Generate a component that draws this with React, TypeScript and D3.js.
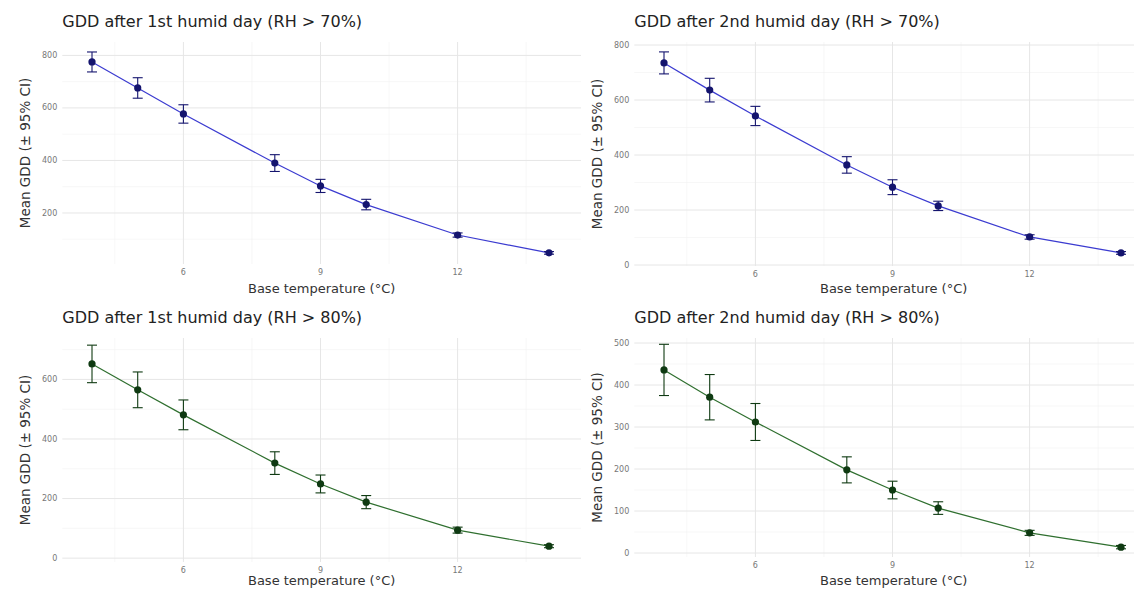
import React from "react";
import * as d3 from "d3";

// base temperatures (°C)
const temps = [4, 5, 6, 8, 9, 10, 12, 14];

// mean GDD and 95% CI half-width
const rh70Day1Mean = [775, 676, 577, 390, 303, 232, 116, 48];
const rh70Day1Ci = [38, 39, 35, 32, 25, 20, 8, 5];
const rh70Day2Mean = [735, 636, 542, 364, 283, 215, 102, 44];
const rh70Day2Ci = [40, 43, 35, 30, 27, 17, 8, 5];
const rh80Day1Mean = [652, 565, 481, 319, 249, 188, 94, 40];
const rh80Day1Ci = [63, 60, 50, 38, 30, 22, 10, 5];
const rh80Day2Mean = [436, 371, 312, 198, 150, 107, 48, 14];
const rh80Day2Ci = [61, 54, 44, 31, 21, 15, 6, 4];

const titles = [
  "GDD after 1st humid day (RH > 70%)",
  "GDD after 2nd humid day (RH > 70%)",
  "GDD after 1st humid day (RH > 80%)",
  "GDD after 2nd humid day (RH > 80%)",
];

const xTicks = [6, 9, 12];
const xMinor = [4.5, 7.5, 10.5, 13.5];

const W = 1134;
const H = 590;

type Panel = {
  title: string;
  mean: number[];
  ci: number[];
  ox: number;
  top: number;
  bottom: number;
  xTitleY: number;
  yDomain: [number, number];
  yStep: number;
  line: string;
  point: string;
};

const panels: Panel[] = [
  { title: titles[0], mean: rh70Day1Mean, ci: rh70Day1Ci, ox: 0, top: 42, bottom: 264, xTitleY: 293, yDomain: [5.7, 851], yStep: 200, line: "#3b3bd0", point: "#14146e" },
  { title: titles[1], mean: rh70Day2Mean, ci: rh70Day2Ci, ox: 572, top: 42, bottom: 266, xTitleY: 293, yDomain: [-3.6, 811], yStep: 200, line: "#3b3bd0", point: "#14146e" },
  { title: titles[2], mean: rh80Day1Mean, ci: rh80Day1Ci, ox: 0, top: 338, bottom: 562, xTitleY: 585, yDomain: [-13, 739], yStep: 200, line: "#2f6f2f", point: "#0f3a12" },
  { title: titles[3], mean: rh80Day2Mean, ci: rh80Day2Ci, ox: 572, top: 338, bottom: 557, xTitleY: 585, yDomain: [-9.5, 512], yStep: 100, line: "#2f6f2f", point: "#0f3a12" },
];

const font = "'DejaVu Sans', sans-serif";

function PanelView({ p }: { p: Panel }) {
  const x = d3.scaleLinear().domain([3.35, 14.7]).range([62.3 + p.ox, 581 + p.ox]);
  const y = d3.scaleLinear().domain(p.yDomain).range([p.bottom, p.top]);
  const [x0, x1] = x.range();
  const yTicks = d3.range(0, p.yDomain[1] + 1, p.yStep).filter((v) => v >= p.yDomain[0]);
  const yMinor = d3
    .range(p.yStep / 2, p.yDomain[1], p.yStep)
    .filter((v) => v >= p.yDomain[0]);
  const pts = temps.map((t, i) => ({ t, m: p.mean[i], c: p.ci[i] }));
  const line = d3
    .line<{ t: number; m: number }>()
    .x((d) => x(d.t))
    .y((d) => y(d.m));

  return (
    <g>
      {yMinor.map((v) => (
        <line key={"ym" + v} x1={x0} x2={x1} y1={y(v)} y2={y(v)} stroke="#f2f2f2" strokeWidth={0.6} />
      ))}
      {xMinor.map((v) => (
        <line key={"xm" + v} x1={x(v)} x2={x(v)} y1={p.top} y2={p.bottom} stroke="#f2f2f2" strokeWidth={0.6} />
      ))}
      {yTicks.map((v) => (
        <line key={"yg" + v} x1={x0} x2={x1} y1={y(v)} y2={y(v)} stroke="#e6e6e6" strokeWidth={1} />
      ))}
      {xTicks.map((v) => (
        <line key={"xg" + v} x1={x(v)} x2={x(v)} y1={p.top} y2={p.bottom} stroke="#e6e6e6" strokeWidth={1} />
      ))}
      {yTicks.map((v) => (
        <text key={"yt" + v} x={x0 - 5} y={y(v)} dy="0.32em" textAnchor="end" fontSize={8} fill="#777" fontFamily={font}>
          {v}
        </text>
      ))}
      {xTicks.map((v) => (
        <text key={"xt" + v} x={x(v)} y={p.bottom + 11} textAnchor="middle" fontSize={8} fill="#777" fontFamily={font}>
          {v}
        </text>
      ))}
      <path d={line(pts) ?? ""} fill="none" stroke={p.line} strokeWidth={1.2} />
      {pts.map((d) => (
        <g key={d.t} stroke={p.point} strokeWidth={1.1}>
          <line x1={x(d.t)} x2={x(d.t)} y1={y(d.m - d.c)} y2={y(d.m + d.c)} />
          <line x1={x(d.t) - 5} x2={x(d.t) + 5} y1={y(d.m + d.c)} y2={y(d.m + d.c)} />
          <line x1={x(d.t) - 5} x2={x(d.t) + 5} y1={y(d.m - d.c)} y2={y(d.m - d.c)} />
        </g>
      ))}
      {pts.map((d) => (
        <circle key={"c" + d.t} cx={x(d.t)} cy={y(d.m)} r={3.6} fill={p.point} />
      ))}
      <text x={x0} y={p.top - 15} fontSize={16} fill="#222" fontFamily={font}>
        {p.title}
      </text>
      <text
        x={(x0 + x1) / 2}
        y={p.xTitleY}
        textAnchor="middle"
        fontSize={13}
        fill="#333"
        fontFamily={font}
      >
        Base temperature (°C)
      </text>
      <text
        transform={`translate(${p.ox + 30},${(p.top + p.bottom) / 2}) rotate(-90)`}
        textAnchor="middle"
        fontSize={13.5}
        fill="#333"
        fontFamily={font}
      >
        Mean GDD (± 95% CI)
      </text>
    </g>
  );
}

export default function App() {
  return (
    <svg width={W} height={H} style={{ position: "absolute", left: 0, top: 0, background: "#fff" }}>
      <rect width={W} height={H} fill="#fff" />
      {panels.map((p) => (
        <PanelView key={p.title} p={p} />
      ))}
    </svg>
  );
}
